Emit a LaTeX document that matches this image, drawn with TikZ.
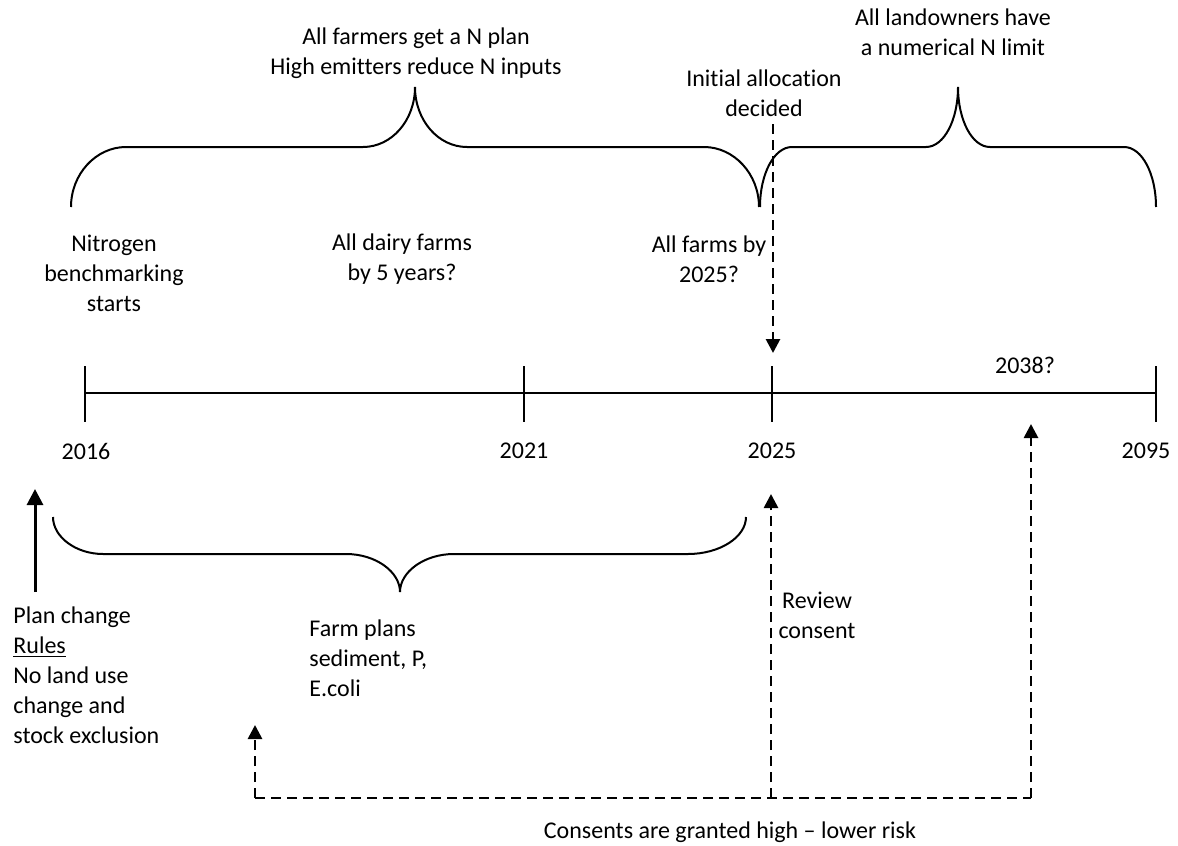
\documentclass[tikz,border=0pt]{standalone}
\usepackage{fontspec}
\setmainfont{Carlito}[Ligatures={TeX,NoCommon}]
\usetikzlibrary{arrows.meta}

\begin{document}
\begin{tikzpicture}[
  x=0.5pt, y=-0.5pt,
  txt/.style={inner sep=0pt, align=center, font=\fontsize{12}{15}\selectfont},
  ln/.style={line width=1pt},
  dln/.style={line width=1.35pt, dash pattern=on 5pt off 3pt},
  darr/.style={dln, -{Triangle[length=7pt, width=7pt]}},
  arr/.style={line width=1.5pt, -{Triangle[length=8pt, width=8pt]}}
]
  \useasboundingbox (0,0) rectangle (1178,846);

  % timeline
  \draw[ln] (85,393) -- (1156,393);
  \foreach \x in {85,524,772,1156}
    \draw[ln] (\x,366) -- (\x,422);
  \foreach \x/\yr in {86/2016,524/2021,772/2025,1146/2095}
    \node[txt] (y\yr) at (\x,451) {\yr};
  \node[txt] (y2038) at (1025,365) {2038?};

  % braces above
  \draw[ln] (71,207) .. controls (71,174) and (96,147) .. (126,147) -- (363,147)
    .. controls (392,147) and (415,120) .. (415,87)
    .. controls (415,120) and (438,147) .. (467,147) -- (704,147)
    .. controls (734,147) and (759,174) .. (759,207);
  \draw[ln] (760,207) .. controls (760,174) and (774,147) .. (792,147) -- (926,147)
    .. controls (944,147) and (958,120) .. (958,87)
    .. controls (958,120) and (972,147) .. (990,147) -- (1124,147)
    .. controls (1142,147) and (1156,174) .. (1156,207);

  % brace below
  \draw[ln] (53,517) .. controls (53,537) and (76,554) .. (103,554) -- (346,554)
    .. controls (376,554) and (400,572) .. (400,592)
    .. controls (400,572) and (424,554) .. (454,554) -- (688,554)
    .. controls (720,554) and (746,537) .. (746,517);

  \node[txt] (nplan) at (416,53) {All farmers get a N plan\\High emitters reduce N inputs};
  \node[txt] (limit) at (953,32) {All landowners have\\a numerical N limit};
  \node[txt] (init) at (764,93) {Initial allocation\\decided};
  \node[txt] (bench) at (114,273) {Nitrogen\\benchmarking\\starts};
  \node[txt] (dairy) at (402,259) {All dairy farms\\by 5 years?};
  \node[txt] (allfarms) at (709,259) {All farms by\\2025?};

  \node[txt, align=left] (plan) at (13,675) [anchor=west]
    {Plan change\\\underline{Rules}\\No land use\\change and\\stock exclusion};
  \node[txt, align=left] (farm) at (309,658) [anchor=west]
    {Farm plans\\sediment, P,\\E.coli};
  \node[txt] (review) at (817,615) {Review\\consent};
  \node[txt] (consents) at (730,832) {Consents are granted high -- lower risk};

  % arrows
  \coordinate (initA) at (773,124);
  \coordinate (initB) at (773,353);
  \draw[darr] (initA) -- (initB);

  \coordinate (pcA) at (35,592);
  \coordinate (pcB) at (35,489);
  \draw[arr] (pcA) -- (pcB);

  \coordinate (bl) at (255,798);
  \coordinate (bm) at (771,798);
  \coordinate (br) at (1031,798);
  \coordinate (tl) at (255,725);
  \coordinate (tm) at (771,494);
  \coordinate (tr) at (1031,424);
  \draw[dln] (bl) -- (br);
  \draw[darr] (bl) -- (tl);
  \draw[darr] (bm) -- (tm);
  \draw[darr] (br) -- (tr);
\end{tikzpicture}
\end{document}
